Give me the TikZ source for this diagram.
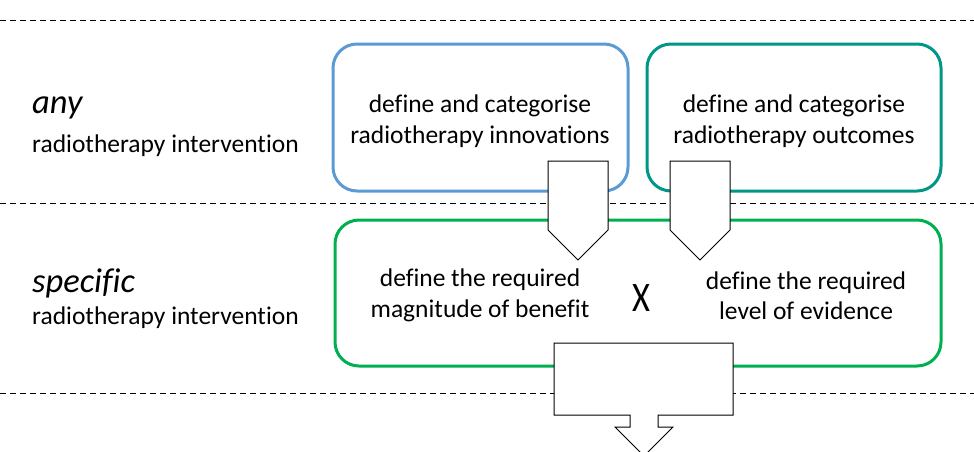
\documentclass[tikz,border=0pt]{standalone}
\usepackage{fontspec}
\setmainfont{Carlito}[Ligatures=NoCommon]
\usetikzlibrary{positioning}

\definecolor{innoblue}{RGB}{91,155,213}
\definecolor{outteal}{RGB}{0,150,136}
\definecolor{reqgreen}{RGB}{0,176,80}

\begin{document}
\begin{tikzpicture}[x=1pt, y=-1pt,
  stagebox/.style={draw, line width=3pt, rounded corners=24pt, fill=white, inner sep=0pt,
    align=center, font=\fontsize{25.5}{31}\selectfont},
  boxtext/.style={align=center, font=\fontsize{25.5}{30.5}\selectfont},
  leveltext/.style={anchor=west, inner sep=0pt, font=\fontsize{25.5}{30}\selectfont},
  levelword/.style={anchor=west, inner sep=0pt, font=\fontsize{34.5}{40}\selectfont\itshape},
  sepline/.style={line width=1pt, dash pattern=on 6pt off 4pt},
  blockarrow/.style={draw=black, fill=white, line width=1pt, line join=miter}]
  \useasboundingbox (0,0) rectangle (974,451);
  \clip (0,0) rectangle (974,451);
  % Draw level separators
  \draw [sepline] (0,20) -- (974,20);
  \draw [sepline] (0,203) -- (974,203);
  \draw [sepline] (0,393) -- (974,393);
  % Add level labels
  \node [levelword] (any) at (32,108) {any};
  \node [leveltext] (anyrt) at (32,146) {radiotherapy intervention};
  \node [levelword] (spec) at (32,283) {specific};
  \node [leveltext] (specrt) at (32,318) {radiotherapy intervention};
  % Draw stage boxes
  \node [stagebox, draw=innoblue, minimum width=295pt, minimum height=147pt] (innov) at (480.5,117.5) {};
  \node [stagebox, draw=outteal, minimum width=294pt, minimum height=147pt] (outc) at (794,117.5) {};
  \node [stagebox, draw=reqgreen, minimum width=606pt, minimum height=146pt] (req) at (638,293) {};
  % Add stage texts
  \node [boxtext] (innovtext) at (480,121) {define and categorise\\radiotherapy innovations};
  \node [boxtext] (outctext) at (794,121) {define and categorise\\radiotherapy outcomes};
  \node [boxtext] (benefit) at (480,295.5) {define the required\\magnitude of benefit};
  \node [boxtext] (evidence) at (806,295.5) {define the required\\level of evidence};
  \node [font=\fontsize{42}{46}\selectfont, xscale=0.82] (times) at (641,298) {X};
  % Draw block arrows
  \draw [blockarrow] (548,161) -- (608,161) -- (608,230) -- (578,260) -- (548,230) -- cycle;
  \draw [blockarrow] (670,161) -- (730,161) -- (730,230) -- (700,260) -- (670,230) -- cycle;
  \draw [blockarrow] (554,343) -- (733,343) -- (733,415) -- (658,415) -- (658,427) -- (673,427)
    -- (644,456) -- (615,427) -- (630,427) -- (630,415) -- (554,415) -- cycle;
\end{tikzpicture}
\end{document}
